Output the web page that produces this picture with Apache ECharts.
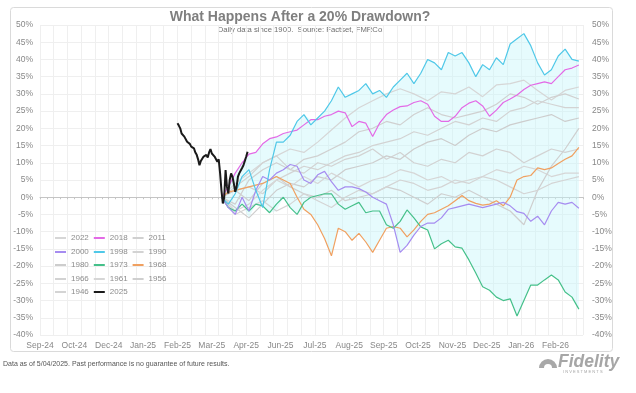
<!DOCTYPE html>
<html><head><meta charset="utf-8">
<script src="https://cdn.jsdelivr.net/npm/echarts@6/dist/echarts.min.js"></script>
<style>html,body{margin:0;padding:0;background:#fff}#c{width:636px;height:393px}</style>
</head><body><div id="c"></div>
<script>
// ---- x tick labels (one every 25 trading days from day 0) ----
const xTickLabels = ['Sep-24','Oct-24','Dec-24','Jan-25','Feb-25','Mar-25','Apr-25','Jun-25','Jul-25','Aug-25','Sep-25','Oct-25','Nov-25','Dec-25','Jan-26','Feb-26'];
const LABEL_EVERY = 25;      // trading days between x labels
const X_MAX = 395;           // trading days shown

// ---- historical paths start at the 20% drawdown day ----
const START_DAY = 132;
const STEP_COLOR = 5;   // days between points of the coloured series
const STEP_GRAY = 10;   // days between points of the grey series

const y1998 = [0,-2,1,6,8,2,-3,8,16,16,18,22,24,21,23,25,28,32,29,30,31,33,30,31,29,32,34,36,33,36,40,39,37,42,41,42,39,35,38.5,37,40.5,38.5,44.5,46,47.5,44,39,35.5,37,41,43,40,39.5];
const y2018 = [0,3,7,10,12.5,13,15.5,17,17.5,18.5,19,19.5,21,22.5,22.5,23.5,24,25,24.5,20.5,22,21.5,17.6,21.5,24,25.3,26.3,26.5,27.5,28,27,23.5,22,22,23.5,26,27.3,28,26.5,23.5,25.3,27.5,28.5,29.7,31.3,32.5,33,33.5,33,35,37,37.5,38.4];
const y2000 = [0,-3,-5,0,-4,2,6,5,7,8,9.5,9,5,4,6.5,7.5,4.5,2,3,3,2.5,1.5,0,-1,-2,-8,-16,-14,-11,-8.5,-7.5,-7.5,-6,-3.5,-3,-2.5,-2,-2.5,-3,-2.5,-2,-1.5,-2.5,-4.2,-4.7,-7,-5.5,-8,-4,-1.5,-2,-1.5,-3.2];
const y1973 = [0,-3,-4,-2,-4,-2,-2.5,-4.5,-2,0,-3,-5,-1.5,0,0.5,1,1,-2,-3.5,-2.5,-1.5,-4.5,-4,-4,-8,-9,-7,-3.7,-6,-8.6,-9.5,-15,-13.5,-12.5,-14.4,-14.8,-18.2,-22,-26,-27,-29,-30,-29.5,-34.5,-30,-25.5,-25.5,-24,-22.6,-24,-27.5,-29,-32.5];
const y1968 = [0,1.5,2,2.5,3,3.5,4,5,6,5,4,0,-3.5,-5,-8,-12,-17,-9,-10,-12.5,-10.5,-13,-16,-12.5,-9,-8.5,-9,-11.5,-9.5,-7,-5,-4.5,-3.5,-2.5,-1,0.5,-1,-1.8,-2.3,-2,-1,-2.5,0,5,6,6.3,8.5,8,8.5,9.8,11,12,14.5];

const y2022 = [0,4,7,10,12,14,13,16,19.5,23,26,28,30,31.5,30,28,30.6,30,32,29.2,32.6,33,34,31,28.2,31,32];
const y2011 = [0,-2,5,8,10,8,11,12,14,16,19,20,22,21,24,26,24,23,24,25,27,30,29,27,29,30,28.5];
const y1990 = [0,2,3,1,5,7,9,8,10,12,13,15,16,17,19,18,20,22,21,23,22,25,26,28,27,26,26];
const y1980 = [0,-3,-6,-2,2,4,3,6,5,8,9,10,12,11,14,16,17,15,18,20,19,21,22,23,24,22,23];
const y1966 = [0,3,6,10,12,8,7,10,9,11,12,14,11,13,10,9,11,10,13,12,14,13,10,12,14,13,14];
const y1961 = [0,-4,-2,2,5,3,6,4,7,5,3,5,6,8,7,5,6,4,5,6,8,7,9,8,6,7,7];
const y1956 = [0,2,-1,4,6,3,1,0,2,-1,0,1,3,2,0,-2,1,0,2,0,-2,-4,-8,2,9,14,20];
const y1946 = [0,-5,-3,-1,-4,-2,1,-1,-3,0,2,1,3,5,4,2,3,5,4,6,5,3,1,2,4,5,6];

// ---- 2025 path (daily) ----
const START_2025 = 100;
const y2025 = [21.5,20.8,20,18.5,18.2,17.6,17.8,16.1,16.5,15.5,14.7,15,14.2,13,12.3,11,9.3,10.5,10.8,11.8,11.3,12.3,11.5,13,14,12.7,12.5,11.8,12.3,10.3,11,7,2,-1.8,0,7.9,3,1.1,5,6.9,6,4,1.6,3,6,7,7.4,8.5,9.3,10.5,11.8,13.2];

const legendRows = [['2022','2018','2011'],['2000','1998','1990'],['1980','1973','1968'],['1966','1961','1956'],['1946','2025']];

const FONT = "'Liberation Sans', Arial, sans-serif";
const toXY = (vals, start, step) => vals.map((v, i) => [start + i * step, v]);

const grayDefs = [['2022', y2022, '#d6d6d6'], ['2011', y2011, '#d0d0d0'], ['1990', y1990, '#d3d3d3'], ['1980', y1980, '#cdcdcd'],
                  ['1966', y1966, '#d2d2d2'], ['1961', y1961, '#d6d6d6'], ['1956', y1956, '#cfcfcf'], ['1946', y1946, '#d4d4d4']];
const colorDefs = [['1968', y1968, '#f0a060'], ['1973', y1973, '#45c08a'], ['2000', y2000, '#a68cf0'], ['2018', y2018, '#e36ae6'], ['1998', y1998, '#4fc8e8']];

// envelope (min..max of all historical paths) for the shaded band
const envLow = [], envHigh = [];
for (let i = 0; i < y1998.length; i++) {
  const vals = colorDefs.map(d => d[1][i]);
  if (i % 2 === 0) grayDefs.forEach(d => { if (d[1][i / 2] !== undefined) vals.push(d[1][i / 2]); });
  const day = START_DAY + i * STEP_COLOR;
  envLow.push([day, Math.min(...vals)]); envHigh.push([day, Math.max(...vals)]);
}

const lineSeries = (name, data, color, width, z) => ({
  name, type: 'line', data, xAxisIndex: 0, yAxisIndex: 0, symbol: 'none', showSymbol: false,
  lineStyle: { color, width }, itemStyle: { color }, z, silent: true
});

const series = [
  { name: 'envelope', type: 'custom', xAxisIndex: 0, yAxisIndex: 0, silent: true, z: 1,
    data: [[START_DAY, 0]], encode: { x: 0, y: 1 },
    renderItem: (params, api) => {
      if (params.dataIndex !== 0) return null;
      const pts = envHigh.map(p => api.coord(p)).concat(envLow.slice().reverse().map(p => api.coord(p)));
      return { type: 'polygon', shape: { points: pts }, style: { fill: 'rgba(200,246,250,0.45)', stroke: null } };
    } }
];
grayDefs.forEach(d => series.push(lineSeries(d[0], toXY(d[1], START_DAY, STEP_GRAY), d[2], 1.2, 2)));
colorDefs.forEach(d => series.push(lineSeries(d[0], toXY(d[1], START_DAY, STEP_COLOR), d[2], 1.2, 3)));
series.push(lineSeries('2025', toXY(y2025, START_2025, 1), '#1a1a1a', 2, 4));

const rowY = [239, 253, 266, 280, 293];
const legends = legendRows.map((row, r) => ({
  data: row, left: 55, top: rowY[r] - 5, orient: 'horizontal', itemWidth: 11, itemHeight: 2, itemGap: 5,
  icon: 'rect', selectedMode: false, padding: 0,
  textStyle: { fontSize: 8, color: '#8c8c8c', fontFamily: FONT }
}));

const chart = echarts.init(document.getElementById('c'), null, { renderer: 'canvas' });
chart.setOption({
  animation: false,
  backgroundColor: '#fff',
  grid: { left: 40, right: 53, top: 25, bottom: 58, containLabel: false },
  legend: legends,
  xAxis: [
    { type: 'value', min: 0, max: X_MAX, interval: 10,
      axisLine: { show: true, onZero: true, lineStyle: { color: '#c4c4c4', width: 1 } },
      axisTick: { show: true, length: 2, lineStyle: { color: '#c4c4c4' } },
      minorTick: { show: true, splitNumber: 2, length: 2, lineStyle: { color: '#c4c4c4' } },
      axisLabel: { show: false },
      splitLine: { show: true, lineStyle: { color: '#efefef', width: 1 } } },
    { type: 'value', min: 0, max: X_MAX, interval: LABEL_EVERY, position: 'bottom',
      axisLine: { show: false, onZero: false }, axisTick: { show: false }, splitLine: { show: false },
      axisLabel: { show: true, margin: 6, fontSize: 8.5, color: '#888', fontFamily: FONT,
        formatter: v => (v % LABEL_EVERY === 0 && xTickLabels[v / LABEL_EVERY]) ? xTickLabels[v / LABEL_EVERY] : '' } }
  ],
  yAxis: [
    { type: 'value', position: 'left', min: -40, max: 50, interval: 5,
      axisLine: { show: false }, axisTick: { show: false },
      axisLabel: { margin: 7, fontSize: 8.5, color: '#888', fontFamily: FONT, formatter: v => v + '%' },
      splitLine: { show: true, lineStyle: { color: '#efefef', width: 1 } } },
    { type: 'value', position: 'right', min: -40, max: 50, interval: 5,
      axisLine: { show: false }, axisTick: { show: false },
      axisLabel: { margin: 9, fontSize: 8.5, color: '#888', fontFamily: FONT, formatter: v => v + '%' },
      splitLine: { show: false } }
  ],
  series,
  graphic: [
    { type: 'rect', shape: { x: 10.5, y: 7.5, width: 602, height: 344, r: 3 }, style: { fill: 'none', stroke: '#dadada', lineWidth: 1 }, silent: true, z: -10 },
    { type: 'text', x: 300, y: 17, style: { text: 'What Happens After a 20% Drawdown?', font: 'bold 14px ' + FONT, fill: '#7f7f7f', textAlign: 'center', textVerticalAlign: 'middle' } },
    { type: 'text', x: 301, y: 30, style: { text: 'Daily data since 1900.  Source: Factset, FMRCo.', font: '7.7px ' + FONT, fill: '#6f6f6f', textAlign: 'center', textVerticalAlign: 'middle' } },
    { type: 'text', x: 3, y: 364, style: { text: 'Data as of 5/04/2025. Past performance is no guarantee of future results.', font: '7px ' + FONT, fill: '#555', textAlign: 'left', textVerticalAlign: 'middle' } },
    { type: 'sector', shape: { cx: 548, cy: 368, r: 9, r0: 0, startAngle: Math.PI, endAngle: 2 * Math.PI }, style: { fill: '#a8a8a8' } },
    { type: 'sector', shape: { cx: 548, cy: 368, r: 4, r0: 0, startAngle: Math.PI, endAngle: 2 * Math.PI }, style: { fill: '#fff' } },
    { type: 'text', x: 558, y: 362, style: { text: 'Fidelity', font: 'italic bold 17.5px ' + FONT, fill: '#a6a6a6', textAlign: 'left', textVerticalAlign: 'middle' } },
    { type: 'text', x: 563, y: 372, style: { text: 'I N V E S T M E N T S', font: '4px ' + FONT, fill: '#a6a6a6', textAlign: 'left', textVerticalAlign: 'middle' } }
  ]
});
</script></body></html>
